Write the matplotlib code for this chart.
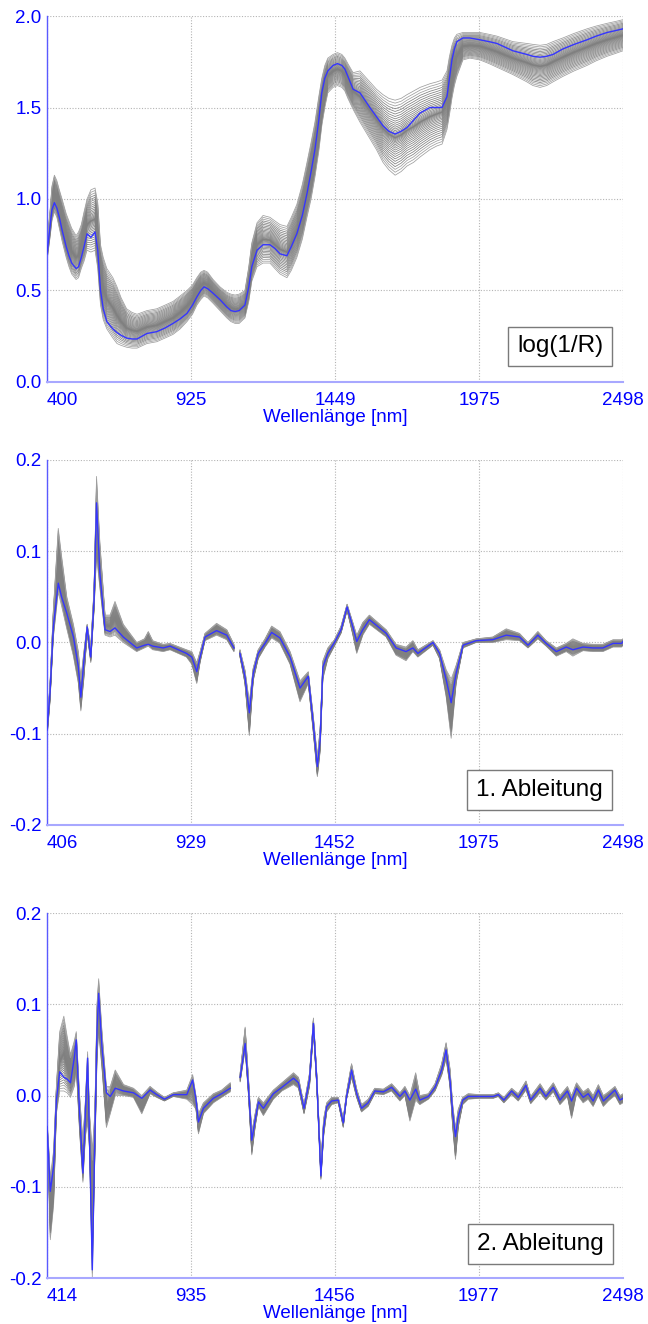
import numpy as np
import matplotlib
matplotlib.use("Agg")
import matplotlib.pyplot as plt

plt.rcParams["font.family"] = ["Liberation Sans", "DejaVu Sans"]

nan = float("nan")

# --- log(1/R) spectra: mean plus lower / upper edge of the sample bundle
wl1 = [400, 412, 418, 427, 436, 445, 455, 470, 480, 490, 506, 515, 525, 535, 546, 560, 575,
       585, 595, 605, 618, 640, 655, 670, 690, 710, 728, 764, 800, 830, 859, 885, 910, 930,
       946, 960, 972, 985, 1005, 1030, 1055, 1070, 1085, 1100, 1121, 1135, 1146, 1165, 1187,
       1212, 1230, 1249, 1274, 1290, 1310, 1330, 1347, 1362, 1376, 1390, 1401, 1412, 1423,
       1442, 1458, 1474, 1485, 1496, 1515, 1540, 1576, 1600, 1624, 1645, 1668, 1690, 1711,
       1735, 1759, 1795, 1820, 1839, 1857, 1866, 1875, 1884, 1893, 1915, 1940, 1977, 2010,
       2039, 2068, 2097, 2148, 2170, 2196, 2220, 2243, 2279, 2320, 2367, 2400, 2440, 2470,
       2498]
mean1 = [0.70, 0.86, 0.94, 0.98, 0.95, 0.90, 0.83, 0.74, 0.69, 0.65, 0.62, 0.63, 0.68, 0.74,
         0.81, 0.79, 0.82, 0.72, 0.50, 0.40, 0.33, 0.29, 0.27, 0.255, 0.24, 0.235, 0.235,
         0.265, 0.275, 0.295, 0.32, 0.345, 0.375, 0.42, 0.465, 0.50, 0.52, 0.51, 0.485, 0.45,
         0.41, 0.39, 0.385, 0.39, 0.42, 0.52, 0.63, 0.72, 0.75, 0.75, 0.73, 0.70, 0.69, 0.74,
         0.81, 0.91, 1.03, 1.15, 1.27, 1.43, 1.58, 1.66, 1.70, 1.73, 1.74, 1.73, 1.71, 1.67,
         1.60, 1.58, 1.50, 1.45, 1.40, 1.37, 1.355, 1.37, 1.39, 1.43, 1.47, 1.50, 1.50, 1.50,
         1.56, 1.66, 1.76, 1.82, 1.86, 1.88, 1.88, 1.87, 1.86, 1.85, 1.83, 1.81, 1.79, 1.78,
         1.775, 1.78, 1.79, 1.82, 1.845, 1.87, 1.89, 1.91, 1.92, 1.93]
lo1 = [0.66, 0.80, 0.88, 0.93, 0.90, 0.84, 0.77, 0.68, 0.63, 0.59, 0.56, 0.57, 0.62, 0.66,
       0.72, 0.71, 0.72, 0.62, 0.42, 0.34, 0.29, 0.24, 0.21, 0.20, 0.19, 0.185, 0.185, 0.21,
       0.22, 0.24, 0.26, 0.29, 0.33, 0.37, 0.42, 0.45, 0.47, 0.46, 0.43, 0.39, 0.35, 0.33,
       0.32, 0.32, 0.35, 0.44, 0.55, 0.63, 0.65, 0.65, 0.62, 0.59, 0.57, 0.61, 0.68, 0.78,
       0.90, 1.00, 1.12, 1.26, 1.40, 1.50, 1.58, 1.61, 1.62, 1.61, 1.59, 1.55, 1.49, 1.42,
       1.33, 1.27, 1.20, 1.16, 1.13, 1.15, 1.18, 1.20, 1.23, 1.27, 1.29, 1.30, 1.38, 1.46,
       1.55, 1.62, 1.67, 1.76, 1.77, 1.76, 1.74, 1.72, 1.70, 1.68, 1.64, 1.62, 1.61, 1.62,
       1.64, 1.67, 1.70, 1.73, 1.755, 1.78, 1.795, 1.81]
hi1 = [0.76, 0.95, 1.07, 1.13, 1.10, 1.05, 1.00, 0.92, 0.88, 0.84, 0.80, 0.82, 0.86, 0.93,
       1.00, 1.05, 1.06, 0.98, 0.75, 0.68, 0.62, 0.57, 0.52, 0.46, 0.40, 0.38, 0.37, 0.39,
       0.40, 0.42, 0.44, 0.47, 0.50, 0.53, 0.57, 0.60, 0.61, 0.60, 0.56, 0.52, 0.49, 0.48,
       0.475, 0.48, 0.50, 0.63, 0.76, 0.87, 0.91, 0.90, 0.88, 0.86, 0.85, 0.90, 0.97, 1.08,
       1.20, 1.31, 1.42, 1.56, 1.66, 1.73, 1.77, 1.79, 1.80, 1.79, 1.77, 1.74, 1.69, 1.70,
       1.64, 1.60, 1.57, 1.55, 1.54, 1.55, 1.57, 1.59, 1.61, 1.63, 1.64, 1.65, 1.70, 1.78,
       1.84, 1.88, 1.90, 1.91, 1.91, 1.91, 1.90, 1.89, 1.875, 1.86, 1.85, 1.845, 1.84, 1.845,
       1.86, 1.88, 1.905, 1.93, 1.945, 1.96, 1.97, 1.98]

# --- 1. Ableitung
wl2 = [406, 417, 429, 447, 459, 478, 502, 520, 529, 540, 552, 565, 577, 586, 598, 617, 635,
       653, 683, 732, 760, 774, 790, 828, 853, 913, 932, 950, 962, 980, 1022, 1059, 1085,
       1096, 1107, 1125, 1141, 1155, 1173, 1198, 1222, 1252, 1289, 1325, 1355, 1373, 1388,
       1398, 1408, 1426, 1450, 1474, 1496, 1517, 1531, 1553, 1577, 1638, 1674, 1710, 1735,
       1753, 1808, 1832, 1856, 1874, 1892, 1917, 1965, 2025, 2074, 2122, 2153, 2189, 2219,
       2256, 2292, 2316, 2353, 2389, 2425, 2462, 2493, 2498]
mean2 = [-0.096, -0.055, 0.017, 0.065, 0.050, 0.032, 0.006, -0.027, -0.060, -0.020, 0.017,
         -0.016, 0.047, 0.153, 0.076, 0.014, 0.012, 0.016, 0.006, -0.006, -0.003, -0.002,
         -0.004, -0.006, -0.004, -0.012, -0.016, -0.032, -0.016, 0.006, 0.013, 0.008, -0.006,
         nan, -0.012, -0.037, -0.077, -0.034, -0.012, -0.001, 0.011, 0.005, -0.016, -0.050,
         -0.037, -0.088, -0.136, -0.107, -0.027, -0.012, 0.000, 0.014, 0.039, 0.017, 0.001,
         0.014, 0.025, 0.010, -0.006, -0.010, -0.006, -0.012, 0.000, -0.012, -0.041, -0.066,
         -0.034, -0.003, 0.002, 0.003, 0.008, 0.006, -0.003, 0.008, -0.001, -0.010, -0.005,
         -0.008, -0.005, -0.006, -0.006, -0.001, -0.001, 0.001]
lo2 = [-0.105, -0.065, 0.005, 0.055, 0.040, 0.015, -0.015, -0.045, -0.075, -0.040, 0.010,
       -0.022, 0.035, 0.095, 0.060, 0.008, 0.006, 0.008, 0.000, -0.010, -0.006, -0.004,
       -0.008, -0.010, -0.008, -0.016, -0.024, -0.045, -0.022, 0.002, 0.008, 0.003, -0.010,
       nan, -0.016, -0.045, -0.102, -0.042, -0.018, -0.005, 0.005, -0.001, -0.024, -0.065,
       -0.045, -0.098, -0.147, -0.120, -0.040, -0.018, -0.004, 0.010, 0.035, 0.008, -0.012,
       0.008, 0.020, 0.006, -0.014, -0.020, -0.010, -0.016, -0.003, -0.018, -0.060, -0.105,
       -0.045, -0.006, 0.000, 0.000, 0.003, 0.002, -0.006, 0.004, -0.004, -0.015, -0.010,
       -0.015, -0.009, -0.010, -0.010, -0.005, -0.005, -0.003]
hi2 = [-0.090, -0.045, 0.035, 0.125, 0.095, 0.050, 0.020, -0.010, -0.040, -0.010, 0.020,
       -0.005, 0.060, 0.182, 0.110, 0.030, 0.030, 0.045, 0.020, 0.000, 0.004, 0.012, 0.002,
       -0.002, -0.001, -0.008, -0.010, -0.022, -0.010, 0.010, 0.021, 0.014, -0.002, nan,
       -0.008, -0.030, -0.065, -0.028, -0.008, 0.004, 0.018, 0.012, -0.010, -0.042, -0.032,
       -0.080, -0.125, -0.095, -0.020, -0.006, 0.003, 0.018, 0.042, 0.022, 0.008, 0.022,
       0.030, 0.014, -0.002, -0.005, 0.002, -0.008, 0.002, -0.008, -0.030, -0.040, -0.025,
       0.000, 0.004, 0.006, 0.015, 0.010, 0.000, 0.012, 0.002, -0.006, -0.001, 0.004,
       -0.001, -0.002, -0.002, 0.003, 0.003, 0.004]

# --- 2. Ableitung
wl3 = [414, 420, 426, 438, 448, 460, 475, 487, 499, 513, 520, 532, 544, 553, 561, 568, 578,
       587, 595, 601, 613, 629, 643, 661, 691, 727, 757, 787, 811, 839, 871, 920, 941, 953,
       962, 980, 1016, 1046, 1077, 1095, 1113, 1131, 1143, 1155, 1167, 1179, 1197, 1233,
       1264, 1306, 1324, 1344, 1364, 1378, 1390, 1405, 1415, 1426, 1444, 1468, 1486, 1498,
       1516, 1534, 1552, 1576, 1600, 1631, 1661, 1691, 1709, 1727, 1748, 1763, 1794, 1818,
       1842, 1858, 1872, 1882, 1892, 1902, 1918, 1938, 1980, 2029, 2047, 2067, 2095, 2119,
       2147, 2164, 2198, 2219, 2246, 2270, 2297, 2312, 2330, 2354, 2372, 2390, 2409, 2427,
       2445, 2469, 2487, 2498]
mean3 = [-0.034, -0.067, -0.105, -0.078, -0.005, 0.026, 0.020, 0.018, 0.014, 0.042, 0.061,
         -0.019, -0.085, -0.019, 0.041, -0.049, -0.191, -0.049, 0.072, 0.112, 0.053, 0.003,
         -0.001, 0.008, 0.005, 0.003, -0.003, 0.006, 0.001, -0.004, 0.001, 0.001, 0.017,
         -0.004, -0.029, -0.014, -0.003, 0.002, 0.008, nan, 0.020, 0.057, 0.009, -0.049,
         -0.027, -0.007, -0.014, 0.002, 0.009, 0.019, 0.014, -0.014, 0.018, 0.079, 0.018,
         -0.088, -0.035, -0.012, -0.006, -0.005, -0.030, -0.001, 0.028, 0.003, -0.014,
         -0.008, 0.005, 0.004, 0.009, -0.001, 0.005, -0.005, 0.007, -0.005, -0.001, 0.009,
         0.028, 0.050, 0.018, -0.019, -0.045, -0.023, -0.005, -0.001, -0.001, -0.001, 0.001,
         -0.005, 0.005, -0.002, 0.011, -0.005, 0.008, -0.001, 0.009, -0.005, 0.005, -0.006,
         0.008, -0.002, 0.002, -0.006, 0.006, -0.006, -0.001, 0.006, -0.005, -0.003]
lo3 = [-0.050, -0.090, -0.158, -0.120, -0.020, 0.005, 0.005, 0.003, -0.002, 0.010, 0.030,
       -0.040, -0.095, -0.045, -0.030, -0.060, -0.200, -0.070, 0.040, 0.070, 0.030, -0.035,
       -0.020, 0.000, 0.000, -0.002, -0.020, 0.002, -0.002, -0.006, -0.001, -0.004, -0.010,
       -0.015, -0.042, -0.020, -0.008, -0.002, 0.004, nan, 0.015, 0.050, 0.000, -0.065,
       -0.035, -0.012, -0.022, -0.004, 0.005, 0.012, 0.008, -0.020, 0.010, 0.070, 0.010,
       -0.092, -0.045, -0.018, -0.010, -0.008, -0.035, -0.004, 0.020, -0.002, -0.018,
       -0.012, 0.002, 0.001, 0.005, -0.006, 0.000, -0.028, -0.005, -0.010, -0.004, 0.005,
       0.022, 0.040, 0.010, -0.035, -0.070, -0.035, -0.010, -0.004, -0.003, -0.003, -0.001,
       -0.008, 0.001, -0.006, 0.006, -0.009, 0.003, -0.005, 0.004, -0.010, -0.001, -0.025,
       0.002, -0.008, -0.004, -0.012, 0.000, -0.012, -0.006, 0.000, -0.010, -0.008]
hi3 = [-0.025, -0.055, -0.090, -0.060, 0.010, 0.070, 0.087, 0.065, 0.045, 0.060, 0.070,
       0.000, -0.050, -0.005, 0.048, -0.020, -0.060, -0.020, 0.100, 0.128, 0.070, 0.010,
       0.010, 0.028, 0.012, 0.008, 0.000, 0.010, 0.004, -0.002, 0.003, 0.006, 0.023, 0.000,
       -0.020, -0.008, 0.002, 0.006, 0.014, nan, 0.025, 0.075, 0.020, -0.040, -0.020,
       -0.002, -0.008, 0.006, 0.014, 0.025, 0.020, -0.010, 0.025, 0.085, 0.025, -0.075,
       -0.025, -0.008, -0.002, -0.002, -0.025, 0.004, 0.035, 0.008, -0.010, -0.004, 0.008,
       0.007, 0.013, 0.003, 0.010, 0.000, 0.025, 0.000, 0.002, 0.013, 0.035, 0.058, 0.030,
       -0.010, -0.035, -0.015, -0.002, 0.002, 0.001, 0.001, 0.003, -0.002, 0.008, 0.002,
       0.016, -0.001, 0.013, 0.003, 0.014, 0.000, 0.010, 0.000, 0.014, 0.004, 0.008, 0.000,
       0.012, 0.000, 0.004, 0.010, 0.000, 0.002]

panels = [
    (wl1, mean1, lo1, hi1, [400, 925, 1449, 1975, 2498], (0.0, 2.0),
     [0.0, 0.5, 1.0, 1.5, 2.0], "log(1/R)", 0.891, 0.097),
    (wl2, mean2, lo2, hi2, [406, 929, 1452, 1975, 2498], (-0.2, 0.2),
     [-0.2, -0.1, 0.0, 0.1, 0.2], "1. Ableitung", 0.855, 0.096),
    (wl3, mean3, lo3, hi3, [414, 935, 1456, 1977, 2498], (-0.2, 0.2),
     [-0.2, -0.1, 0.0, 0.1, 0.2], "2. Ableitung", 0.857, 0.093),
]
bottoms = [0.7115, 0.3769, 0.0347]
heights = [0.2764, 0.2757, 0.2757]

# position of each sample line inside the bundle: dense in the middle, sparse at the edges
t = np.linspace(-1, 1, 41)
fracs = 0.5 + 0.5 * np.sign(t) * np.abs(t) ** 1.6

BLUE = "#0000ff"
fig = plt.figure(figsize=(6.48, 13.24), dpi=100)

for (wl, mean, lo, hi, xt, ylim, yt, label, tx, ty), b, h in zip(panels, bottoms, heights):
    ax = fig.add_axes([0.0725, b, 0.8889, h])
    wl = np.array(wl, float)
    lo = np.array(lo, float)
    hi = np.array(hi, float)

    # sample bundle
    for f in fracs:
        edge = abs(f - 0.5) > 0.4
        ax.plot(wl, lo + f * (hi - lo), color="0.62" if edge else "0.5",
                lw=0.55, zorder=2)
    ax.plot(wl, mean, color="#3535ff", lw=1.0, zorder=3)

    ax.set_xlim(wl[0], wl[-1])
    ax.set_ylim(*ylim)
    ax.set_xticks(xt)
    ax.set_xticklabels([str(v) for v in xt])
    ax.set_yticks(yt)
    ax.set_yticklabels([f"{v:.1f}" for v in yt])
    ax.get_xticklabels()[0].set_ha("left")
    ax.tick_params(length=0, labelsize=13.5, labelcolor=BLUE, pad=7)
    ax.tick_params(axis="y", pad=4)
    ax.grid(True, color="#b4b4b4", linestyle=(0, (1, 1.5)), lw=0.8)
    ax.set_axisbelow(True)
    for s in ("top", "right"):
        ax.spines[s].set_visible(False)
    ax.spines["left"].set_color("#5a5aff")
    ax.spines["bottom"].set_color("#a8a8ff")
    ax.spines["left"].set_linewidth(1.0)
    ax.spines["bottom"].set_linewidth(1.5)
    ax.set_xlabel("Wellenlänge [nm]", color=BLUE, fontsize=13.5, labelpad=0)

    ax.text(tx, ty, label, transform=ax.transAxes, ha="center", va="center",
            fontsize=17.5, color="black", zorder=5,
            bbox=dict(boxstyle="square,pad=0.36", fc="white", ec="#7a7a7a", lw=1.0))

fig.savefig("out.png", dpi=100)
